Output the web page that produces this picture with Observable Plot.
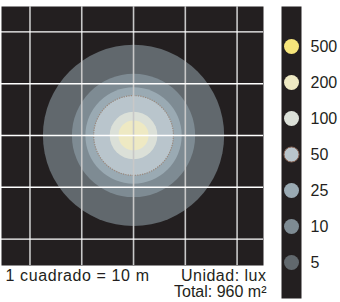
<!DOCTYPE html>
<html>
<head>
<meta charset="utf-8">
<script src="https://cdn.jsdelivr.net/npm/d3@7"></script>
<script src="https://cdn.jsdelivr.net/npm/@observablehq/plot@0.6"></script>
<style>
  html, body { margin: 0; padding: 0; background: #ffffff; }
  #wrap { position: relative; width: 340px; height: 302px; overflow: hidden; }
  #main { position: absolute; left: 0; top: 0; }
  #legend { position: absolute; left: 270px; top: 0; }
  svg { overflow: visible; }
</style>
</head>
<body>
<div id="wrap"><div id="main"></div><div id="legend"></div></div>
<script>
// Illuminance levels (lux) and their colours
const levels = [500, 200, 100, 50, 25, 10, 5];
const colors = ["#f6e57b", "#eee9c3", "#dbe0d8", "#b9c5cc", "#9aaab3", "#7e8b93", "#61686d"];
// Radius (m) of each iso-lux contour around the light source (500 lux not reached)
const contourLevels = [5, 10, 25, 50, 100, 200];
const contourRadii  = [17.5, 11.9, 9.3, 7.7, 4.6, 2.9];
// Light source position (m)
const sourceX = [0];
const sourceY = [0];
// Grid lines every 10 m (1 cuadrado = 10 m)
const gridTicks = [-20, -10, 0, 10, 20];
// Texts
const scaleLabel = "1 cuadrado = 10 m";
const unitLabel = "Unidad: lux";
const totalLabel = "Total: 960 m²";

const contours = contourLevels.map((lv, i) => ({level: lv, radius: contourRadii[i], x: sourceX[0], y: sourceY[0]}));

const W = 270, H = 302, mL = 1, mR = 7, mT = 6, mB = 37;
const xDom = [-25.5, 25.1], yDom = [-25.1, 24.9];
const pxPerM = (W - mL - mR) / (xDom[1] - xDom[0]);

const font = "'Liberation Sans', Arial, Helvetica, sans-serif";
const ink = "#231f20";

const main = Plot.plot({
  width: W, height: H,
  marginLeft: mL, marginRight: mR, marginTop: mT, marginBottom: mB,
  x: {domain: xDom, axis: null},
  y: {domain: yDom, axis: null},
  r: {type: "linear", domain: [0, 1], range: [0, pxPerM]},
  color: {type: "ordinal", domain: levels, range: colors},
  style: {fontFamily: font, fontSize: "16px", background: "transparent"},
  marks: [
    Plot.frame({fill: ink}),
    Plot.dot(contours, {x: "x", y: "y", r: "radius", fill: "level", sort: {channel: "-r"}}),
    Plot.dot(contours.filter(d => d.level === 50), {x: "x", y: "y", r: "radius", stroke: "#9a887c", strokeWidth: 1.2, strokeDasharray: "1.2,1.2"}),
    Plot.ruleX(gridTicks, {stroke: "#c8c8c8", strokeWidth: 1.6}),
    Plot.ruleY(gridTicks, {stroke: "#ffffff", strokeWidth: 1.4}),
    Plot.text([scaleLabel], {frameAnchor: "bottom-left", textAnchor: "start", lineAnchor: "bottom", dx: 4, dy: 15, fill: ink, fontSize: 16}),
    Plot.text([unitLabel], {frameAnchor: "bottom-right", textAnchor: "end", lineAnchor: "bottom", dx: 3, dy: 15, fill: ink, fontSize: 16}),
    Plot.text([totalLabel], {frameAnchor: "bottom-right", textAnchor: "end", lineAnchor: "bottom", dx: 3, dy: 31, fill: ink, fontSize: 16})
  ]
});
d3.select(main).selectAll("text").each(function() {
  const t = this.textContent;
  if (t === scaleLabel) d3.select(this).attr("letter-spacing", "0.6px");
  else if (t === unitLabel) d3.select(this).attr("letter-spacing", "0.5px");
});
document.getElementById("main").appendChild(main);

const legend = Plot.plot({
  width: 70, height: 302,
  marginLeft: 11, marginRight: 39, marginTop: 6, marginBottom: 4,
  x: {domain: [0, 1], axis: null},
  y: {type: "point", domain: levels, range: [27.3, 281.7], axis: null},
  color: {type: "ordinal", domain: levels, range: colors},
  style: {fontFamily: font, fontSize: "16px", background: "transparent"},
  marks: [
    Plot.frame({fill: ink}),
    Plot.dot(levels, {y: d => d, r: 7.5, fill: d => d, stroke: d => d === 50 ? "#8a6657" : "none", strokeWidth: 1}),
    Plot.text(levels, {y: d => d, text: d => String(d), textAnchor: "start", dx: 19, fill: ink, fontSize: 16})
  ]
});
document.getElementById("legend").appendChild(legend);
</script>
</body>
</html>
